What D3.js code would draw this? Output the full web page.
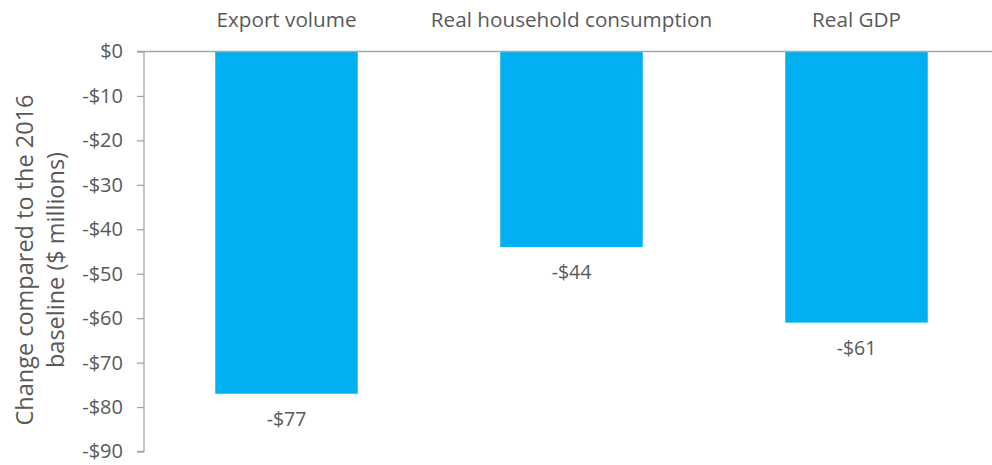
<!DOCTYPE html>
<html><head><meta charset="utf-8">
<script src="https://cdn.jsdelivr.net/npm/d3@7"></script>
<style>body{margin:0;background:#fff}svg{display:block}text{font-family:"Open Sans",sans-serif;fill:#595959}</style>
</head><body>
<svg id="c" width="992" height="465"></svg>
<script>
const categories = ["Export volume", "Real household consumption", "Real GDP"];
const values = [-77, -44, -61];
const yTicks = [0, -10, -20, -30, -40, -50, -60, -70, -80, -90];
const yTitle = ["Change compared to the 2016", "baseline ($ millions)"];

const svg = d3.select("#c");
const x = d3.scaleBand().domain(categories).range([144, 999]).paddingInner(0.5).paddingOuter(0.25);
const y = d3.scaleLinear().domain([0, -90]).range([51.5, 451.5]);
const fmt = v => (v < 0 ? "-$" + Math.abs(v) : "$" + v);

// bars
svg.selectAll("rect.bar").data(values).join("rect")
  .attr("x", (d, i) => x(categories[i]))
  .attr("width", x.bandwidth())
  .attr("y", y(0))
  .attr("height", d => y(d) - y(0))
  .attr("fill", "#00B0F0");

// y axis
const ax = svg.append("g").attr("transform", "translate(144,0)")
  .call(d3.axisLeft(y).tickValues(yTicks).tickSize(7).tickPadding(14).tickFormat(fmt));
ax.select(".domain").attr("stroke", "#A6A6A6").attr("stroke-width", 1.3).attr("d", `M-7,${y(-90)}H0V${y(0)}`);
ax.selectAll(".tick line").attr("stroke", "#A6A6A6").attr("stroke-width", 1.3);
ax.selectAll(".tick text").style("font-size", "20px").attr("fill", "#595959");

// zero line
svg.append("line").attr("x1", 137).attr("x2", 992).attr("y1", y(0)).attr("y2", y(0))
  .attr("stroke", "#A6A6A6").attr("stroke-width", 1.5);

// category labels
svg.selectAll("text.cat").data(categories).join("text").attr("class", "cat")
  .attr("x", d => x(d) + x.bandwidth() / 2).attr("y", 27)
  .attr("text-anchor", "middle").style("font-size", "20.7px").text(d => d);

// value labels
svg.selectAll("text.val").data(values).join("text").attr("class", "val")
  .attr("x", (d, i) => x(categories[i]) + x.bandwidth() / 2).attr("y", d => y(d) + 32)
  .attr("text-anchor", "middle").style("font-size", "19.5px").text(fmt);

// y title
svg.selectAll("text.yt").data(yTitle).join("text").attr("class", "yt")
  .attr("transform", (d, i) => `translate(${33 + i * 31},${260}) rotate(-90)`)
  .attr("text-anchor", "middle").style("font-size", "23.5px").text(d => d);
</script>
</body></html>
